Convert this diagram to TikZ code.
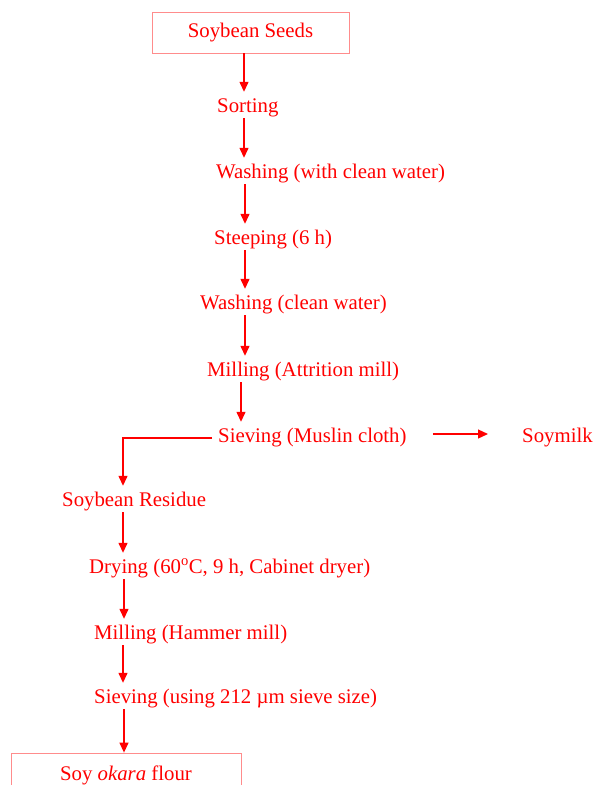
\documentclass[tikz,border=0pt]{standalone}
\usepackage{fontspec}
\setmainfont{Liberation Serif}
\usetikzlibrary{arrows.meta}
\definecolor{fred}{RGB}{255,0,0}
\definecolor{boxred}{RGB}{255,140,140}
\tikzset{
  lbl/.style={anchor=west, inner xsep=0pt, inner ysep=3pt, text height=17pt, text depth=3pt, text=fred, font=\fontsize{20.8}{24}\selectfont},
  boxnode/.style={draw=boxred, line width=0.8pt, text=fred, font=\fontsize{20.8}{24}\selectfont, inner sep=0pt},
  arr/.style={draw=fred, line width=1.3pt, -{Triangle[length=10pt,width=9pt]}},
}
\begin{document}
\begin{tikzpicture}[x=1pt,y=-1pt]
\useasboundingbox (0,0) rectangle (594,785);
\clip (0,0) rectangle (594,785);
\node[boxnode, minimum width=197pt, minimum height=41pt] (seeds) at (250.5,32.5) {Soybean Seeds};
\node[lbl] (sorting) at (217,105) {Sorting};
\node[lbl] (wash1) at (216,171) {Washing (with clean water)};
\node[lbl] (steep) at (214,237) {Steeping (6 h)};
\node[lbl] (wash2) at (200,302) {Washing (clean water)};
\node[lbl] (mill1) at (207,369) {Milling (Attrition mill)};
\node[lbl] (sieve) at (218,435) {Sieving (Muslin cloth)};
\node[lbl] (soymilk) at (522,435) {Soymilk};
\node[lbl] (residue) at (62,499) {Soybean Residue};
\node[lbl] (drying) at (89,566) {Drying (60\textsuperscript{o}C, 9 h, Cabinet dryer)};
\node[lbl] (mill2) at (94,632) {Milling (Hammer mill)};
\node[lbl] (sieve2) at (94,696) {Sieving (using 212 µm sieve size)};
\node[boxnode, minimum width=230pt, minimum height=41pt, text height=17pt, text depth=3pt] (flour) at (126,773.5) {Soy \textit{okara} flour};

\draw[arr] (244,0 |- seeds.south) -- (244,0 |- sorting.north);
\draw[arr] (244,0 |- sorting.south) -- (244,0 |- wash1.north);
\draw[arr] (245,0 |- wash1.south) -- (245,0 |- steep.north);
\draw[arr] (245,0 |- steep.south) -- (245,0 |- wash2.north);
\draw[arr] (245,0 |- wash2.south) -- (245,0 |- mill1.north);
\draw[arr] (241,0 |- mill1.south) -- (241,0 |- sieve.north);
\draw[arr, shorten <=26pt, shorten >=34pt] ([yshift=1pt]sieve.east) -- ([yshift=1pt]soymilk.west);
\draw[arr] ([shift={(-6pt,-3pt)}]sieve.west) -| (123,0 |- residue.north);
\draw[arr] (123,0 |- residue.south) -- (123,0 |- drying.north);
\draw[arr] (124,0 |- drying.south) -- (124,0 |- mill2.north);
\draw[arr] (123,0 |- mill2.south) -- (123,0 |- sieve2.north);
\draw[arr] (124,0 |- sieve2.south) -- (124,0 |- flour.north);
\end{tikzpicture}
\end{document}
